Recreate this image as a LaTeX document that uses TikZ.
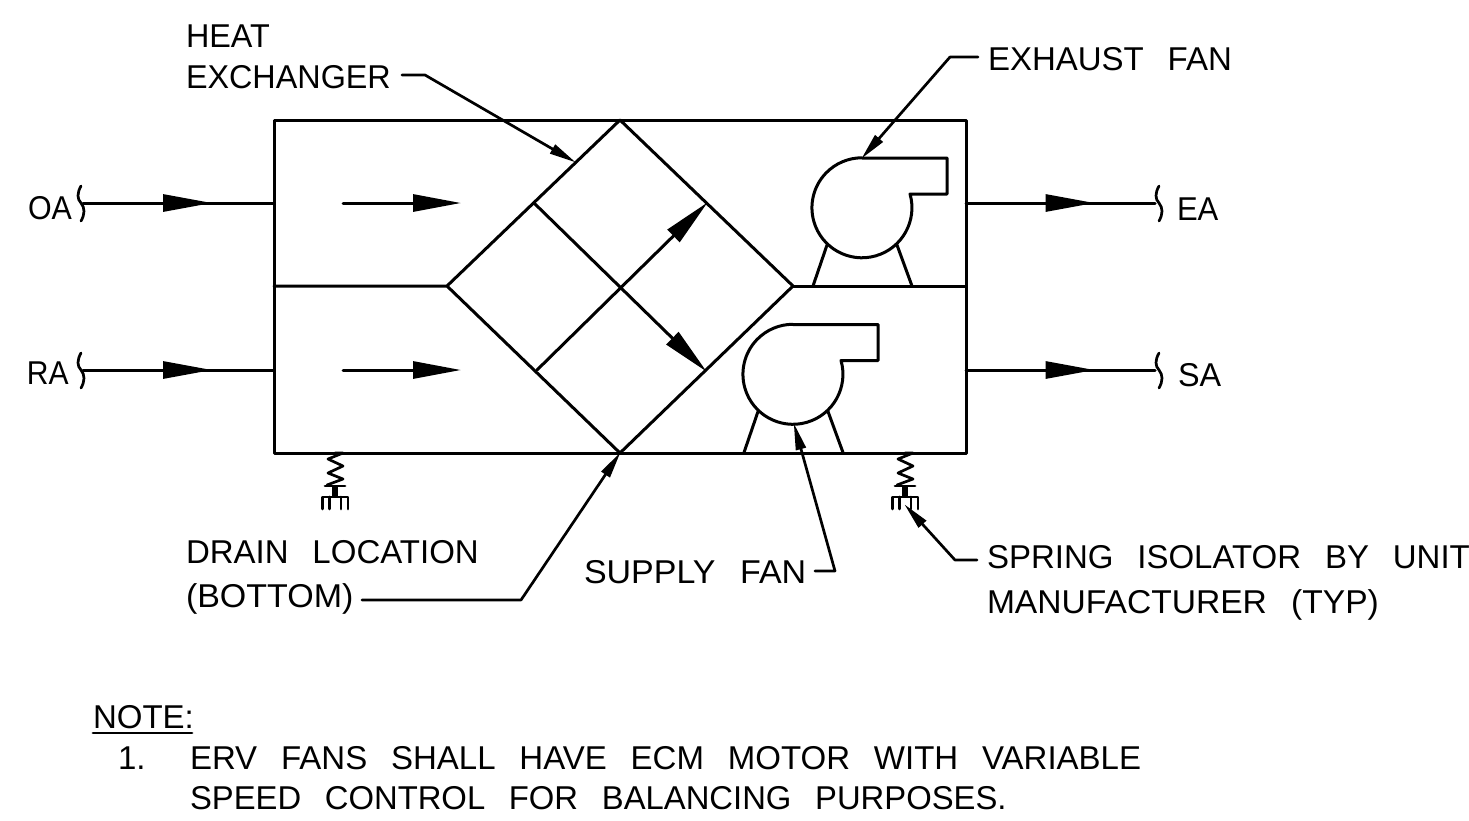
\documentclass[tikz,border=0pt]{standalone}
\usepackage{fontspec}
\usepackage{graphicx}
\usetikzlibrary{arrows.meta,decorations.markings}
\newfontfamily\cadfont[WordSpace=2.6]{Liberation Sans}
\newcommand{\sxt}[2]{\scalebox{#1}[1]{#2}}
\tikzset{
  x=1pt,y=1pt,
  wire/.style={line width=3pt,line cap=round,line join=round},
  thinwire/.style={line width=2.7pt,line cap=round,line join=round},
  lbl/.style={anchor=base west,inner sep=0pt,outer sep=0pt,font=\cadfont\fontsize{33}{33}\selectfont},
  leader/.style={thinwire,-{Triangle[length=27pt,width=10pt]},shorten >=-1pt},
  flow/.style={wire,postaction={decorate},decoration={markings,mark=at position #1 with {\arrow{Triangle[length=49pt,width=17pt]}}}},
  brk/.style={thinwire}
}
\begin{document}
\begin{tikzpicture}
\useasboundingbox (0,-820) rectangle (1469,0);
% named points
\coordinate (tl) at (274,-120); \coordinate (tr) at (966,-120);
\coordinate (bl) at (274,-453); \coordinate (br) at (966,-453);
\coordinate (ml) at (274,-286); \coordinate (mr) at (966,-286);
\coordinate (dt) at (620,-120); \coordinate (dl) at (447,-286);
\coordinate (db) at (620,-453); \coordinate (dr) at (793,-286);
% casing
\draw[wire] (tl) -- (tr) -- (br) -- (bl) -- cycle;
\draw[wire] (ml) -- (dl) -- (dt) -- (dr) -- (db) -- (dl);
\draw[wire] (dr) -- (mr);
% heat exchanger flow arrows
\coordinate (a1) at (534,-203); \coordinate (a2) at (706,-371);
\coordinate (b1) at (537,-370); \coordinate (b2) at (707,-203);
\draw[wire,-{Triangle[length=48pt,width=17pt]},shorten >=-1pt] (a1) -- (a2);
\draw[wire,-{Triangle[length=48pt,width=17pt]},shorten >=-1pt] (b1) -- (b2);
% duct lines
\coordinate (oa) at (83,-203); \coordinate (oab) at (274,-203);
\coordinate (ra) at (83,-370); \coordinate (rab) at (274,-370);
\coordinate (ea) at (1155,-203); \coordinate (eab) at (966,-203);
\coordinate (sa) at (1155,-370); \coordinate (sab) at (966,-370);
\draw[flow=129pt] (oa) -- (oab);
\draw[flow=129pt] (ra) -- (rab);
\draw[flow=128.5pt] (eab) -- (ea);
\draw[flow=128.5pt] (sab) -- (sa);
\coordinate (i1) at (343,-203); \coordinate (i1b) at (460,-203);
\coordinate (i2) at (343,-370); \coordinate (i2b) at (460,-370);
\draw[wire,-{Triangle[length=48pt,width=17pt]},shorten >=-1pt] (i1) -- (i1b);
\draw[wire,-{Triangle[length=48pt,width=17pt]},shorten >=-1pt] (i2) -- (i2b);
% break marks
\foreach \px/\py in {81/-203,81/-370,1159/-203,1159/-370}{
  \draw[brk] (\px,\py+17) .. controls (\px-4,\py+10) and (\px-4,\py+4) .. (\px,\py) .. controls (\px+4,\py-5) and (\px+4,\py-11) .. (\px,\py-18);
}
% fans
\foreach \fx/\fy in {0/0,-69/-166.5}{
\begin{scope}[shift={(\fx,\fy)}]
  \draw[wire] (862,-158) -- (947,-158) -- (947,-194) -- (911,-194)
     -- (910,-194) arc[start angle=16,end angle=-270,radius=50] -- cycle;
  \draw[wire] (827,-245) -- (813,-286);
  \draw[wire] (897,-245) -- (912,-286);
\end{scope}}
% spring isolators
\foreach \sx in {0,570}{
\begin{scope}[shift={(\sx,0)}]
  \draw[thinwire] (335,-453) -- (343,-453) -- (328,-459) -- (343,-466) -- (328,-473) -- (343,-479) -- (327,-485);
  \draw[thinwire] (325,-486) -- (345,-486);
  \fill (332,-486) rectangle (338,-497);
  \draw[thinwire] (322.5,-509) -- (322.5,-497) -- (348,-497) -- (348,-509);
  \draw[thinwire] (329.5,-497) -- (329.5,-509);
  \draw[thinwire] (341,-497) -- (341,-509);
\end{scope}}
% labels
\node[lbl] (heat) at (186,-47) {\sxt{.98}{HEAT}};
\node[lbl] (exch) at (186,-88) {\sxt{.98}{EXCHANGER}};
\node[lbl] (exf) at (988,-70) {EXHAUST FAN};
\node[lbl] (oat) at (28,-219) {\sxt{.92}{OA}};
\node[lbl] (rat) at (27,-384) {\sxt{.91}{RA}};
\node[lbl] (eat) at (1177,-220) {\sxt{.94}{EA}};
\node[lbl] (sat) at (1178,-386) {\sxt{.98}{SA}};
\node[lbl] (drain) at (186,-563) {DRAIN LOCATION};
\node[lbl] (bott) at (186,-607) {\sxt{1.03}{(BOTTOM)}};
\node[lbl] (sup) at (584,-583) {\sxt{1.03}{SUPPLY FAN}};
\node[lbl] (spr) at (987,-568) {SPRING ISOLATOR BY UNIT};
\node[lbl] (mfr) at (987,-613) {\sxt{1.018}{MANUFACTURER (TYP)}};
\node[lbl] (note) at (93,-728) {NOTE:};
\draw[thinwire] (note.base west) ++(0,-5) -- ++(99,0);
\node[lbl] (num) at (118,-769) {1.};
\node[lbl] (n1) at (190,-769) {ERV FANS SHALL HAVE ECM MOTOR WITH VARIABLE};
\node[lbl] (n2) at (190,-809) {\sxt{.994}{SPEED CONTROL FOR BALANCING PURPOSES.}};
% leaders
\coordinate (hx0) at (402,-75); \coordinate (hx1) at (425,-75); \coordinate (hx2) at (575,-162);
\draw[leader] (hx0) -- (hx1) -- (hx2);
\coordinate (ex0) at (978,-57); \coordinate (ex1) at (950,-57); \coordinate (ex2) at (862,-158);
\draw[leader] (ex0) -- (ex1) -- (ex2);
\coordinate (dr0) at (362,-600); \coordinate (dr1) at (521,-600); \coordinate (dr2) at (620,-453);
\draw[leader] (dr0) -- (dr1) -- (dr2);
\coordinate (su0) at (815,-571); \coordinate (su1) at (835,-571); \coordinate (su2) at (794,-424);
\draw[leader] (su0) -- (su1) -- (su2);
\coordinate (sp0) at (977,-560); \coordinate (sp1) at (955,-560); \coordinate (sp2) at (905,-505);
\draw[leader] (sp0) -- (sp1) -- (sp2);
\end{tikzpicture}
\end{document}
